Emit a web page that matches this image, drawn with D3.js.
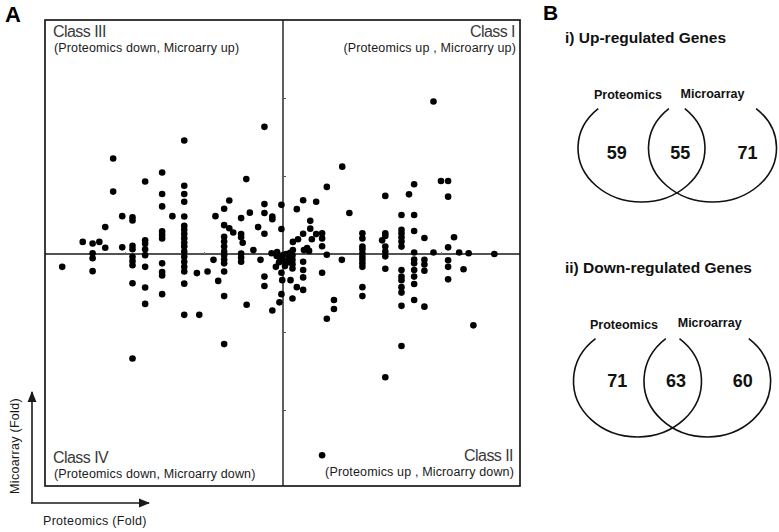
<!DOCTYPE html>
<html><head><meta charset="utf-8">
<script src="https://cdn.jsdelivr.net/npm/d3@7"></script>
<style>body{margin:0;background:#fff}svg{display:block}text{font-family:Arial,"Liberation Sans",sans-serif}</style>
</head><body><svg id="c" width="779" height="532"></svg>
<script>
// ---- Panel A data: [Proteomics fold, Microarray fold] ----
const classI = [
[0.38,0.38],[0.25,0.31],[0.25,0.10],[0.35,1.15],[0.51,1.38],[0.51,0.52],[0.53,0.10],[0.61,0.15],[0.66,0.08],
[0.69,0.85],[0.69,0.65],[0.73,0.38],[0.84,1.34],[0.84,0.51],[0.99,0.53],[0.99,0.40],[0.99,0.20],[1.11,1.72],
[1.50,2.24],[1.68,1.05],[2.01,0.53],[2.01,0.40],[2.01,0.19],[2.01,0.12],[2.01,0.02],[2.51,0.35],[2.59,1.49],
[2.59,0.53],[2.59,0.46],[2.59,0.19],[2.59,0.06],[3.00,1.00],[3.00,0.62],[3.00,0.53],[3.00,0.43],[3.00,0.32],
[3.00,0.19],[3.19,1.53],[3.32,1.79],[3.32,1.00],[3.32,0.59],[3.32,0.04],[3.58,0.41],[3.81,3.91],[3.81,0.04],
[4.00,1.87],[4.18,1.87],[4.18,1.47],[4.18,0.17],[4.33,0.43],[4.46,0.04],[4.70,0.02],[5.35,0.00],[0.08,0.00],
[0.18,0.03]];
const classII = [
[0.19,-0.67],[0.24,-0.04],[0.24,-0.15],[0.24,-0.26],[0.24,-0.37],[0.24,-1.14],[0.35,-0.85],[0.51,-0.20],
[0.51,-0.41],[0.51,-0.60],[0.51,-0.92],[0.99,-0.48],[0.99,-5.16],[1.11,-0.02],[1.11,-1.66],[1.29,-1.18],
[1.29,-1.41],[1.49,-0.15],[2.01,-0.07],[2.01,-0.15],[2.01,-0.24],[2.01,-0.33],[2.01,-0.85],[2.01,-1.08],
[2.59,-0.06],[2.59,-0.38],[2.59,-3.16],[3.00,-0.41],[3.00,-0.58],[3.00,-0.67],[3.00,-0.85],[3.00,-0.99],
[3.00,-1.33],[3.00,-2.36],[3.32,-0.14],[3.32,-0.24],[3.32,-0.41],[3.32,-0.58],[3.32,-0.77],[3.32,-1.18],
[3.58,-0.15],[3.58,-0.27],[3.58,-0.43],[3.58,-1.35],[4.18,-0.16],[4.18,-0.33],[4.18,-0.65],[4.57,-0.39],
[4.82,-1.83],[0.03,-0.18],[0.13,-0.21],[0.15,-0.10],[0.05,-0.31],[0.00,-0.03]];
const classIII = [
[-5.07,0.31],[-4.82,0.27],[-4.82,0.02],[-4.65,0.31],[-4.50,0.69],[-4.50,0.16],[-4.30,2.45],[-4.30,1.60],
[-4.07,0.97],[-4.07,0.17],[-3.81,0.94],[-3.81,0.86],[-3.81,0.21],[-3.81,0.12],[-3.49,1.86],[-3.49,0.35],
[-3.49,0.26],[-3.49,0.12],[-3.06,2.09],[-3.06,1.54],[-3.06,1.22],[-3.06,0.58],[-3.06,0.49],[-3.06,0.40],
[-2.80,0.97],[-2.50,2.91],[-2.50,1.75],[-2.50,1.54],[-2.50,1.34],[-2.50,0.96],[-2.50,0.72],[-2.50,0.62],
[-2.50,0.51],[-2.50,0.40],[-2.50,0.29],[-2.50,0.19],[-2.50,0.06],[-1.71,0.97],[-1.49,1.16],[-1.49,0.74],
[-1.49,0.44],[-1.49,0.32],[-1.49,0.19],[-1.49,0.06],[-1.36,1.37],[-1.36,0.66],[-1.26,0.55],[-1.06,0.92],
[-1.06,0.51],[-1.06,0.43],[-1.06,0.01],[-1.02,0.29],[-0.93,1.92],[-0.84,1.06],[-0.75,0.10],[-0.63,0.69],
[-0.47,3.26],[-0.47,1.28],[-0.47,1.05],[-0.47,0.52],[-0.27,0.96],[-0.27,0.89],[-0.04,1.26],[-0.04,0.64],
[-0.29,0.02],[-0.15,0.05]];
const classIV = [
[-5.59,-0.33],[-4.82,-0.11],[-4.82,-0.44],[-3.81,-0.07],[-3.81,-0.18],[-3.81,-0.29],[-3.81,-0.75],
[-3.81,-2.68],[-3.49,-0.03],[-3.49,-0.33],[-3.49,-0.86],[-3.49,-1.28],[-3.06,-0.24],[-3.06,-0.46],
[-3.06,-0.55],[-3.06,-1.03],[-2.50,-0.07],[-2.50,-0.20],[-2.50,-0.33],[-2.50,-0.45],[-2.50,-0.76],
[-2.50,-1.56],[-2.18,-0.49],[-2.12,-1.56],[-1.91,-0.45],[-1.76,-0.15],[-1.64,-0.69],[-1.49,-0.03],
[-1.49,-0.14],[-1.49,-0.24],[-1.49,-0.45],[-1.49,-1.08],[-1.49,-2.31],[-1.06,-0.09],[-1.06,-0.20],
[-0.92,-1.30],[-0.57,-0.15],[-0.47,-0.58],[-0.47,-0.82],[-0.27,-1.45],[-0.18,-0.33],[-0.09,-1.24],
[-0.04,-1.03],[-0.04,-0.48],[-0.02,-0.67],[-0.16,-0.05],[-0.06,-0.11],[-0.10,-0.21]];
const quadrantTitles = ["Class I","Class II","Class III","Class IV"];
const quadrantNotes = ["(Proteomics up , Microarry up)","(Proteomics up , Microarry down)",
  "(Proteomics down, Microarry up)","(Proteomics down, Microarry down)"];
const axisTicks = [-4,-2,2,4];

// ---- Panel B data ----
const vennTitles = ["i) Up-regulated Genes","ii) Down-regulated Genes"];
const vennSets = ["Proteomics","Microarray"];
const upCounts = [59,55,71];     // proteomics only, both, microarray only
const downCounts = [71,63,60];

const svg = d3.select("#c");
const ink = "#1a1a1a";

// ---------- Panel A ----------
const x = d3.scaleLinear().domain([-6,6]).range([46,520]);
const y = d3.scaleLinear().domain([-6,6]).range([488,20]);
const box = {l:45,t:20,r:520,b:486};

svg.append("rect").attr("x",box.l).attr("y",box.t).attr("width",box.r-box.l).attr("height",box.b-box.t)
  .attr("fill","none").attr("stroke",ink).attr("stroke-width",1.7);
svg.append("line").attr("x1",x(0)).attr("x2",x(0)).attr("y1",box.t).attr("y2",box.b).attr("stroke",ink).attr("stroke-width",1.4);
svg.append("line").attr("x1",box.l).attr("x2",box.r).attr("y1",y(0)).attr("y2",y(0)).attr("stroke",ink).attr("stroke-width",1.4);

// tiny ticks on the central axes
svg.append("g").attr("transform",`translate(${x(0)},0)`)
  .call(d3.axisRight(y).tickValues(axisTicks).tickSize(3).tickFormat(""))
  .call(g=>{g.select(".domain").remove();g.selectAll("line").attr("stroke","#555");});
svg.append("g").attr("transform",`translate(0,${y(0)})`)
  .call(d3.axisTop(x).tickValues(axisTicks).tickSize(2).tickFormat(""))
  .call(g=>{g.select(".domain").remove();g.selectAll("line").attr("stroke","#777");});

const allPts = [].concat(classI,classII,classIII,classIV);
svg.append("g").selectAll("circle").data(allPts).join("circle")
  .attr("cx",d=>x(d[0])).attr("cy",d=>y(d[1])).attr("r",3.3).attr("fill","#000");

// quadrant labels
function qlabel(title,note,xp,yp,anchor){
  svg.append("text").attr("x",xp).attr("y",yp).attr("text-anchor",anchor)
    .attr("font-size",16).attr("fill","#3a3a3a").attr("letter-spacing",-0.55).text(title);
  svg.append("text").attr("x",xp+1).attr("y",yp+15).attr("text-anchor",anchor)
    .attr("font-size",12.5).attr("fill",ink).attr("letter-spacing",0.15).text(note);
}
qlabel(quadrantTitles[2],quadrantNotes[2],53,37,"start");
qlabel(quadrantTitles[0],quadrantNotes[0],515,37,"end");
qlabel(quadrantTitles[3],quadrantNotes[3],53,463,"start");
qlabel(quadrantTitles[1],quadrantNotes[1],513,461,"end");

// axis direction arrows
const defs = svg.append("defs");
defs.append("marker").attr("id","ah").attr("viewBox","0 0 10 10").attr("refX",9).attr("refY",5)
  .attr("markerWidth",7).attr("markerHeight",7).attr("orient","auto")
  .append("path").attr("d","M0,1L10,5L0,9Z").attr("fill",ink);
svg.append("line").attr("x1",32).attr("y1",503).attr("x2",32).attr("y2",392).attr("stroke",ink).attr("stroke-width",1.6).attr("marker-end","url(#ah)");
svg.append("line").attr("x1",31).attr("y1",503).attr("x2",149).attr("y2",503).attr("stroke",ink).attr("stroke-width",1.6).attr("marker-end","url(#ah)");
svg.append("text").attr("transform","translate(19,446) rotate(-90)").attr("text-anchor","middle")
  .attr("font-size",12.5).attr("fill",ink).attr("letter-spacing",0.3).text("Micoarray (Fold)");
svg.append("text").attr("x",43).attr("y",525).attr("font-size",12.5).attr("fill",ink).attr("letter-spacing",0.3).text("Proteomics (Fold)");

// panel letters
svg.append("text").attr("x",5).attr("y",22).attr("font-size",22).attr("font-weight","bold").text("A");
svg.append("text").attr("x",543).attr("y",20).attr("font-size",21).attr("font-weight","bold").text("B");

// ---------- Panel B ----------
// ellipse outlines drawn with d3.arc on a unit circle, scaled; gap at top (parametric angle gapDeg)
function venn(title,counts,ty,e1,e2,gapDeg,numX,numY,lab){
  svg.append("text").attr("x",565).attr("y",ty).attr("font-size",15.5).attr("font-weight","bold").attr("fill","#111").text(title);
  const g = svg.append("g");
  const arc = d3.arc().innerRadius(1).outerRadius(1).startAngle(gapDeg*Math.PI/180).endAngle((360-gapDeg)*Math.PI/180);
  [e1,e2].forEach(e=>{
    g.append("path").attr("transform",`translate(${e.x},${e.y}) scale(${e.rx},${e.ry})`).attr("d",arc())
      .attr("fill","none").attr("stroke","#111").attr("stroke-width",1.6).attr("vector-effect","non-scaling-stroke");
  });
  g.selectAll("text.l").data(vennSets).join("text").attr("class","l")
    .attr("x",(d,i)=>lab[i][0]).attr("y",(d,i)=>lab[i][1]).attr("text-anchor","middle")
    .attr("font-size",12.5).attr("font-weight","bold").attr("fill","#111").text(d=>d);
  g.selectAll("text.n").data(counts).join("text").attr("class","n").attr("x",(d,i)=>numX[i]).attr("y",numY)
    .attr("text-anchor","middle").attr("font-size",18).attr("font-weight","bold").attr("fill","#111").text(d=>d);
}
venn(vennTitles[0],upCounts,43,{x:641.5,y:148,rx:63.5,ry:54},{x:712.5,y:148,rx:64,ry:54},43,
  [616.7,680.3,747.5],158.5,[[628,99],[712.5,97.5]]);
venn(vennTitles[1],downCounts,272.5,{x:637.5,y:381,rx:64,ry:56},{x:707.3,y:381,rx:63.3,ry:56},41,
  [617.3,676,742.8],387,[[624,329],[709.7,326.7]]);
</script></body></html>
